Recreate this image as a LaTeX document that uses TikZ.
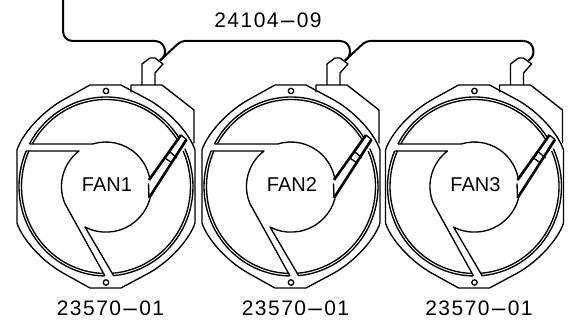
\documentclass[tikz,border=0pt]{standalone}
\usepackage{fontspec}
\usepackage{graphicx}
\setmainfont{Liberation Sans}
\newfontfamily\labfont[LetterSpace=7]{Liberation Sans}
\newcommand{\wdash}{\scalebox{2.6}[1]{-}}
\tikzset{
  part/.style={line width=1.35pt,line join=round},
  cable/.style={line width=2pt,line join=round},
  vaneedge/.style={line width=2.6pt},
  label/.style={font=\labfont\fontsize{21}{21}\selectfont,inner sep=0pt,anchor=base,text=black},
  fanname/.style={font=\fontsize{20}{20}\selectfont,inner sep=0pt,anchor=base,text=black}
}
\newcommand{\fanunit}[3]{% centre x, number, label offset
\begin{scope}[shift={(#1,186.5)},part]
  % housing outline
  \draw (-16,-101.5) -- (15,-101.5) -- (43,-86.5) .. controls (65,-74) and (84,-52) .. (89,-36.5)
     -- (89,36.5) .. controls (84,52) and (65,74) .. (43,86.5) -- (15,101.5) -- (-16,101.5) -- (-43,86.5)
     .. controls (-65,74) and (-84,52) .. (-89,36.5) -- (-89,-36.5)
     .. controls (-84,-52) and (-65,-74) .. (-43,-86.5) -- cycle;
  % bracket
  \draw (25,-94) -- (25,-101.5) -- (56,-101.5) -- (88,-76.5) -- (88,-43);
  % plug
  \draw (36,-101.5) -- (36,-122.5) -- (44,-128.5) -- (49,-128.5) -- (57,-122.5) -- (49,-113.5) -- (49,-101.5);
  \coordinate (tip#2) at (54,-126);
  \coordinate (in#2) at (49,-145.5);
  \coordinate (ca#2) at (55,-145.5);
  \coordinate (cb#2) at (59,-141);
  \coordinate (bend#2) at (59,-135);
  \coordinate (cc#2) at (59,-131);
  \coordinate (cd#2) at (57,-128);
  \coordinate (out#2) at (75,-145.5);
  % mounting holes
  \draw (0,-95.5) circle[radius=2.7];
  \draw (0,96) circle[radius=2.7];
  % ring segments: top
  \draw (208.35:87 and 89.5) arc[start angle=208.35,end angle=327,x radius=87,y radius=89.5];
  \draw (209.24:84.5 and 87) arc[start angle=209.24,end angle=328,x radius=84.5,y radius=87];
  % ring segments: left
  \draw (91:87 and 89.5) arc[start angle=91,end angle=203.37,x radius=87,y radius=89.5];
  \draw (92:84.5 and 87) arc[start angle=92,end angle=204.08,x radius=84.5,y radius=87];
  % ring segments: right
  \draw (85:87 and 89.5) arc[start angle=85,end angle=-25,x radius=87,y radius=89.5];
  \draw (86:84.5 and 87) arc[start angle=86,end angle=-24,x radius=84.5,y radius=87];
  % struts and hub
  \draw (-76.5,-42.5) -- (-13.2,-42.5) arc[start angle=252.8,end angle=356,radius=44.5];
  \draw (-80,-35.5) -- (-27,-35.5) arc[start angle=232.7,end angle=157.5,radius=44.5] -- (-1,89.5);
  \draw (7.7,89.3) -- (-21,40.5) arc[start angle=117.4,end angle=15,radius=45.6];
  % vane
  \fill[white] (43,-6.5) -- (75,-51.5) -- (80.5,-47) -- (43,11.5) -- cycle;
  \draw (42.5,-3) -- (43,11.5);
  \draw[vaneedge] (43,-6.5) -- (75,-51.5);
  \draw[vaneedge] (43,11.5) -- (80.5,-47);
  \draw (75,-51.5) -- (80.5,-47);
  \draw (64,-34.5) -- (71,-28.5);
  \draw (59,-28.5) -- (66,-23.5);
\end{scope}
\node[fanname] (fan#2) at (#1+1,192) {FAN#2};
\node[label] (part#2) at (#1+4.5,315) {23570\wdash 01};
}
\begin{document}
\begin{tikzpicture}[x=1pt,y=1pt,yscale=-1]
\useasboundingbox (0,0) rectangle (572,328);
\fanunit{106}{1}{0}
\fanunit{291}{2}{0}
\fanunit{474.5}{3}{0}
\coordinate (start) at (63,-2);
\node[label] (cablelabel) at (268,28) {24104\wdash 09};
\draw[cable] (start) -- (63,31) .. controls (63,37) and (67,41) .. (73,41) -- (in1)
  .. controls (ca1) and (cb1) .. (bend1) .. controls (cc1) and (cd1) .. (tip1);
\draw[cable,rounded corners=4pt] (tip1) -- (out1) -- (in2);
\draw[cable] (in2) .. controls (ca2) and (cb2) .. (bend2) .. controls (cc2) and (cd2) .. (tip2);
\draw[cable,rounded corners=4pt] (tip2) -- (out2) -- (in3);
\draw[cable] (in3) .. controls (ca3) and (cb3) .. (bend3) .. controls (cc3) and (cd3) .. (tip3);
\end{tikzpicture}
\end{document}
